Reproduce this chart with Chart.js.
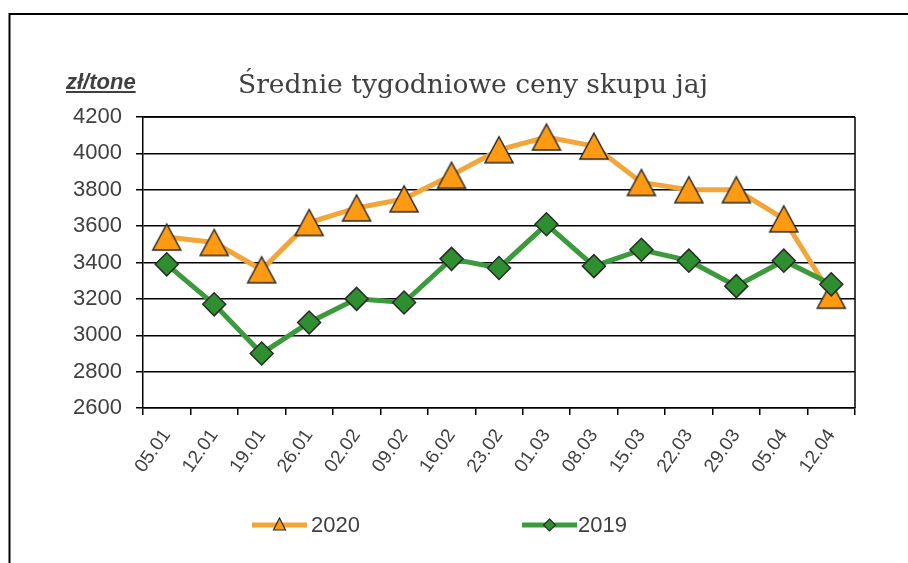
<!DOCTYPE html>
<html>
<head>
<meta charset="utf-8">
<script src="https://cdn.jsdelivr.net/npm/chart.js@4"></script>
<style>
html,body{margin:0;padding:0;background:#fff;}
#wrap{position:relative;width:908px;height:563px;}
canvas{display:block;}
</style>
</head>
<body>
<div id="wrap"><canvas id="c" width="908" height="563"></canvas></div>
<script>
const categories = ['05.01','12.01','19.01','26.01','02.02','09.02','16.02','23.02','01.03','08.03','15.03','22.03','29.03','05.04','12.04'];
const prices2020 = [3540,3510,3360,3620,3700,3750,3880,4020,4090,4040,3840,3800,3800,3640,3220];
const prices2019 = [3390,3170,2900,3070,3200,3180,3420,3370,3610,3380,3470,3410,3270,3410,3280];
const seriesLabels = ['2020','2019'];
const yTicks = [2600,2800,3000,3200,3400,3600,3800,4000,4200];
const titleText = 'Średnie tygodniowe ceny skupu jaj';
const unitText = 'zł/tone';

const TXT = '#404040';
const ORANGE_LINE = '#F2A63A';
const ORANGE_FILL = '#FF9A12';
const GREEN_LINE = '#3C9A3C';
const GREEN_FILL = '#2F8E2F';
const EDGE = '#2a2a2a';

function triangleImage(w, h, fill, stroke, lw) {
  const c = document.createElement('canvas');
  const pad = Math.ceil(lw) + 1;
  c.width = w + pad * 2; c.height = h + pad * 2;
  const g = c.getContext('2d');
  g.beginPath();
  g.moveTo(c.width / 2, pad);
  g.lineTo(c.width - pad, pad + h);
  g.lineTo(pad, pad + h);
  g.closePath();
  g.fillStyle = fill; g.fill();
  g.lineWidth = lw; g.strokeStyle = stroke; g.lineJoin = 'miter'; g.stroke();
  return c;
}
const triBig = triangleImage(28, 26, ORANGE_FILL, EDGE, 1.5);

const deco = {
  id: 'deco',
  beforeDraw(chart) {
    const ctx = chart.ctx;
    ctx.save();
    ctx.fillStyle = '#fff';
    ctx.fillRect(0, 0, chart.width, chart.height);
    ctx.restore();
  },
  afterDraw(chart) {
    const ctx = chart.ctx, a = chart.chartArea;
    ctx.save();
    // outer frame (top + left)
    ctx.strokeStyle = '#000'; ctx.lineWidth = 2;
    ctx.beginPath();
    ctx.moveTo(908, 14); ctx.lineTo(9.5, 14); ctx.lineTo(9.5, 563);
    ctx.stroke();
    // plot area right/top border
    ctx.lineWidth = 1.5;
    ctx.beginPath(); ctx.moveTo(a.right, a.top); ctx.lineTo(a.right, a.bottom); ctx.stroke();
    ctx.beginPath(); ctx.moveTo(a.left, a.top); ctx.lineTo(a.right, a.top); ctx.stroke();

    // title
    ctx.fillStyle = TXT;
    ctx.textBaseline = 'alphabetic';
    ctx.textAlign = 'left';
    let fs = 26;
    ctx.font = fs + 'px "DejaVu Serif"';
    const w = ctx.measureText(titleText).width;
    fs = fs * 470 / w;
    ctx.font = fs.toFixed(2) + 'px "DejaVu Serif"';
    ctx.fillText(titleText, 238, 93);

    // unit label
    ctx.font = 'italic bold 22px "Liberation Sans"';
    ctx.fillText(unitText, 66, 89);
    const uw = ctx.measureText(unitText).width;
    ctx.fillRect(66, 91, uw, 2);

    // legend
    const items = [
      {ds: chart.data.datasets[0], x0: 252, x1: 307, tx: 311},
      {ds: chart.data.datasets[1], x0: 522, x1: 577, tx: 578}
    ];
    const ly = 525;
    items.forEach((it, i) => {
      ctx.strokeStyle = it.ds.borderColor; ctx.lineWidth = 5;
      ctx.beginPath(); ctx.moveTo(it.x0, ly); ctx.lineTo(it.x1, ly); ctx.stroke();
      const cx = (it.x0 + it.x1) / 2;
      ctx.fillStyle = it.ds.pointBackgroundColor; ctx.strokeStyle = EDGE; ctx.lineWidth = 1.2;
      ctx.beginPath();
      if (i === 0) {
        ctx.moveTo(cx, ly - 7); ctx.lineTo(cx + 6, ly + 5); ctx.lineTo(cx - 6, ly + 5); ctx.closePath();
      } else {
        ctx.moveTo(cx, ly - 6); ctx.lineTo(cx + 6, ly); ctx.lineTo(cx, ly + 6); ctx.lineTo(cx - 6, ly); ctx.closePath();
      }
      ctx.fill(); ctx.stroke();
      ctx.fillStyle = TXT;
      ctx.font = '22px "Liberation Sans"';
      ctx.textBaseline = 'middle';
      ctx.fillText(it.ds.label, it.tx, ly + 1);
    });
    ctx.restore();
  }
};

new Chart(document.getElementById('c'), {
  type: 'line',
  data: {
    labels: categories,
    datasets: [
      {
        label: seriesLabels[0], data: prices2020, order: 2,
        borderColor: ORANGE_LINE, borderWidth: 5,
        pointStyle: triBig, pointBackgroundColor: ORANGE_FILL, pointBorderColor: EDGE,
        pointRadius: 14, pointHoverRadius: 14, tension: 0
      },
      {
        label: seriesLabels[1], data: prices2019, order: 1,
        borderColor: GREEN_LINE, borderWidth: 5,
        pointStyle: 'rectRot', pointBackgroundColor: GREEN_FILL, pointBorderColor: EDGE,
        pointBorderWidth: 1.5, pointRadius: 11.5, pointHoverRadius: 11.5, tension: 0
      }
    ]
  },
  options: {
    responsive: false,
    animation: false,
    devicePixelRatio: 1,
    layout: { padding: { left: 0, right: 53, top: 117, bottom: 0 } },
    plugins: { legend: { display: false }, title: { display: false }, tooltip: { enabled: false } },
    scales: {
      x: {
        offset: true,
        afterFit(s) { s.height = 155; },
        grid: { offset: true, drawOnChartArea: false, drawTicks: true, tickLength: 7, color: '#000', lineWidth: 1.5 },
        border: { color: '#000', width: 1.5 },
        ticks: { minRotation: 55, maxRotation: 55, autoSkip: false, padding: 10, color: TXT,
                 font: { family: 'Liberation Sans', size: 19 } }
      },
      y: {
        min: 2600, max: 4200,
        afterFit(s) { s.width = 143; },
        afterBuildTicks(s) { s.ticks = yTicks.map(v => ({ value: v })); },
        grid: { color: '#000', lineWidth: 1.5, drawTicks: true, tickLength: 7 },
        border: { color: '#000', width: 1.5 },
        ticks: { padding: 14, color: TXT, font: { family: 'Liberation Sans', size: 22 },
                 callback: v => String(v) }
      }
    }
  },
  plugins: [deco]
});
</script>
</body>
</html>
